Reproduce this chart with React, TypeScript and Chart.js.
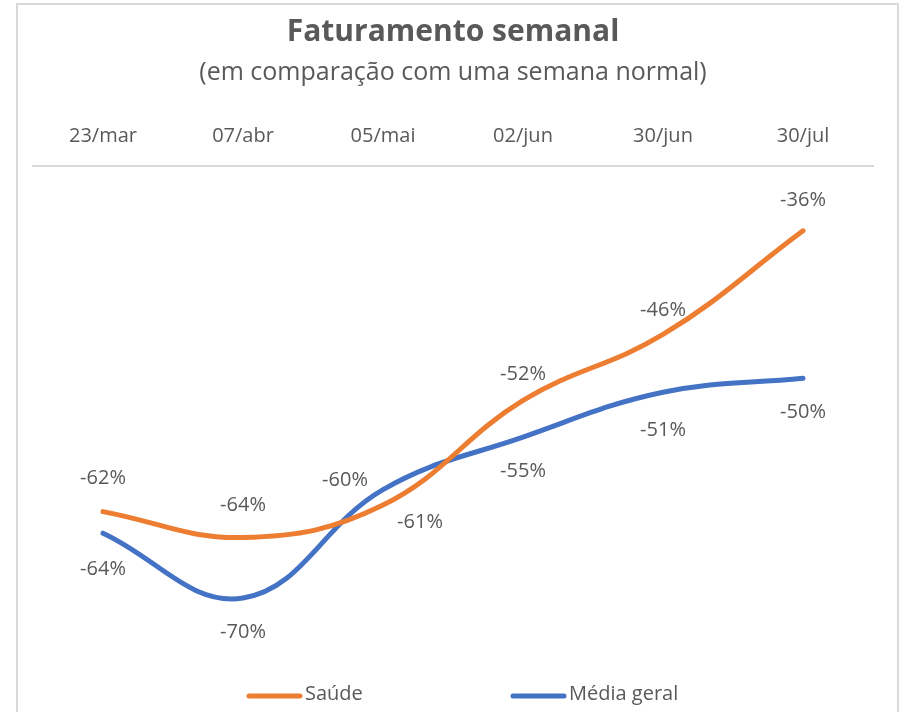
import React, { useEffect, useRef } from "react";
import { Chart, registerables } from "chart.js";

Chart.register(...registerables);

const categories = ["23/mar", "07/abr", "05/mai", "02/jun", "30/jun", "30/jul"];
const saudeValues = [-62.0, -64.4, -61.4, -51.7, -45.6, -36.0];
const mediaValues = [-64.0, -70.0, -59.96, -55.1, -50.95, -49.65];
const seriesNames = ["Saúde", "Média geral"];
const titleText = "Faturamento semanal";
const subtitleText = "(em comparação com uma semana normal)";

const FONT = "'Open Sans', 'Noto Sans', sans-serif";
const TEXT = "#595959";
const ORANGE = "#ED7D31";
const BLUE = "#4472C4";

// label placement (style only)
const labelOffsets: number[][][] = [
  [[0, -33], [0, -32], [37, 17], [0, -26], [0, -24], [0, -31]],
  [[0, 36], [0, 34], [-38, -9], [0, 34], [0, 38], [0, 34]],
];
const legendX = [247, 511];

const labelPlugin = {
  id: "valueLabels",
  afterDatasetsDraw(chart: any) {
    const ctx = chart.ctx;
    ctx.save();
    ctx.font = `20px ${FONT}`;
    ctx.fillStyle = TEXT;
    ctx.textAlign = "center";
    ctx.textBaseline = "middle";
    chart.data.datasets.forEach((ds: any, di: number) => {
      const meta = chart.getDatasetMeta(di);
      meta.data.forEach((pt: any, i: number) => {
        const v = ds.data[i];
        const [dx, dy] = labelOffsets[di][i];
        ctx.fillText(`${Math.round(v)}%`, pt.x + dx, pt.y + dy);
      });
    });
    ctx.restore();
  },
  afterDraw(chart: any) {
    const ctx = chart.ctx;
    ctx.save();
    const y = chart.height - 18;
    ctx.font = `20px ${FONT}`;
    ctx.textBaseline = "middle";
    ctx.textAlign = "left";
    chart.data.datasets.forEach((ds: any, di: number) => {
      const x = legendX[di];
      ctx.strokeStyle = ds.borderColor;
      ctx.lineWidth = 5;
      ctx.lineCap = "round";
      ctx.beginPath();
      ctx.moveTo(x + 2, y + 2);
      ctx.lineTo(x + 53, y + 2);
      ctx.stroke();
      ctx.fillStyle = TEXT;
      ctx.fillText(ds.label, x + 58, y);
    });
    ctx.restore();
  },
};

export default function App() {
  const ref = useRef<HTMLCanvasElement>(null);
  useEffect(() => {
    if (!ref.current) return;
    const chart = new Chart(ref.current, {
      type: "line",
      data: {
        labels: categories,
        datasets: [
          {
            label: seriesNames[0],
            data: saudeValues,
            borderColor: ORANGE,
            backgroundColor: ORANGE,
            borderWidth: 5,
            borderCapStyle: "round",
            tension: 0.4,
            pointRadius: 0,
            fill: false,
          },
          {
            label: seriesNames[1],
            data: mediaValues,
            borderColor: BLUE,
            backgroundColor: BLUE,
            borderWidth: 5,
            borderCapStyle: "round",
            tension: 0.4,
            pointRadius: 0,
            fill: false,
          },
        ],
      },
      options: {
        animation: false,
        responsive: false,
        maintainAspectRatio: false,
        layout: { padding: { left: 33, right: 34, top: 0, bottom: 60 } },
        plugins: {
          legend: { display: false },
          tooltip: { enabled: false },
          title: {
            display: true,
            text: titleText,
            color: TEXT,
            font: { family: FONT, size: 30, weight: "bold" },
            padding: { top: 14, bottom: 4 },
          },
          subtitle: {
            display: true,
            text: subtitleText,
            color: TEXT,
            font: { family: FONT, size: 25 },
            padding: { top: 4, bottom: 18 },
          },
        },
        scales: {
          x: {
            position: "top",
            offset: true,
            grid: { display: false, drawTicks: false },
            border: { display: true, color: "#D9D9D9", width: 2 },
            ticks: { color: TEXT, font: { family: FONT, size: 20 }, padding: 18 },
          },
          y: { display: false, min: -75, max: -30 },
        },
      },
      plugins: [labelPlugin],
    } as any);
    return () => chart.destroy();
  }, []);
  return (
    <div style={{ position: "fixed", left: 0, top: 0, width: 907, height: 712, background: "#fff", overflow: "hidden" }}>
      <div
        style={{
          position: "absolute",
          left: 16,
          top: 3,
          width: 883,
          height: 760,
          border: "2px solid #D9D9D9",
          boxSizing: "border-box",
        }}
      />
      <canvas ref={ref} width={907} height={712} style={{ position: "absolute", left: 0, top: 0 }} />
    </div>
  );
}
